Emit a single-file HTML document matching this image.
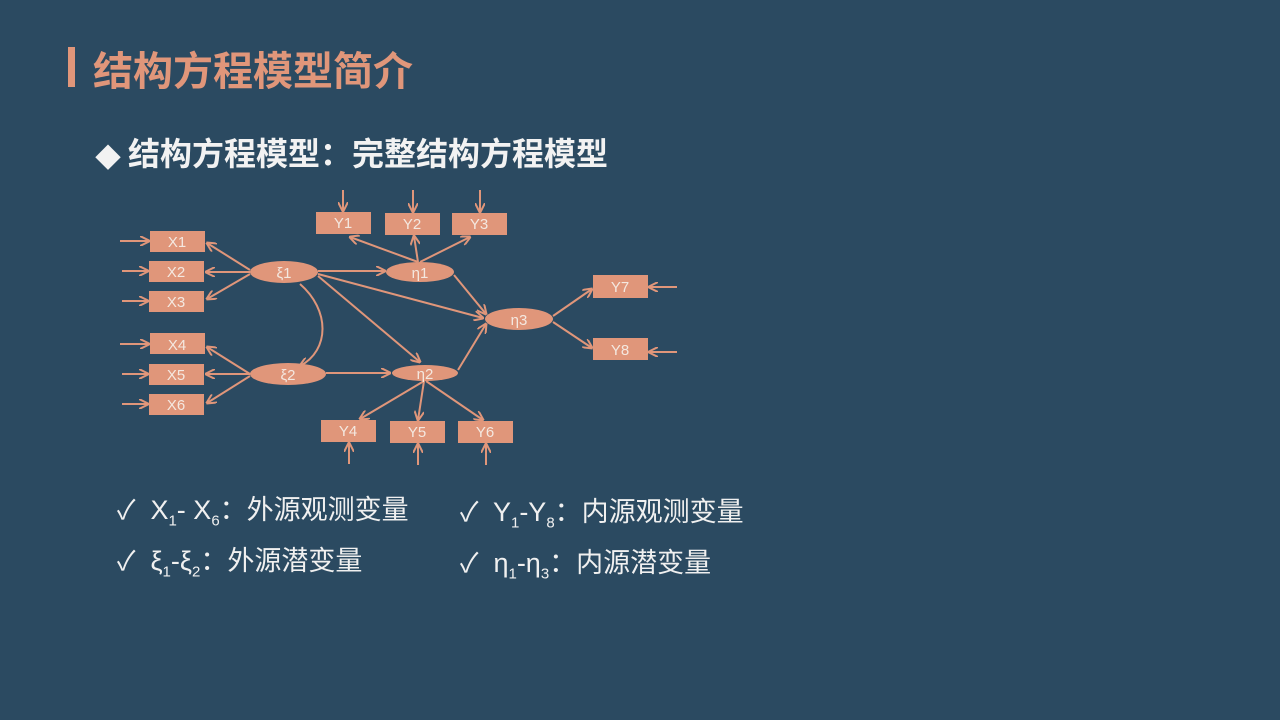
<!DOCTYPE html>
<html><head><meta charset="utf-8"><style>
body{margin:0;width:1280px;height:720px;background:#2b4a61;overflow:hidden;position:relative;font-family:"Liberation Sans","Noto Sans CJK SC",sans-serif}
.bar{position:absolute;left:68px;top:47px;width:7px;height:40px;background:#e0967a}
.t1{position:absolute;left:93px;top:47px;font-size:40px;font-weight:bold;color:#e0967a;line-height:50px}
.dia{position:absolute;left:95px;top:138px;font-size:26px;color:#f2f2f2}
.t2{position:absolute;left:128px;top:133px;font-size:32px;font-weight:bold;color:#f2f2f2;line-height:42px}
.li{position:absolute;font-size:27px;color:#f0f0f0;white-space:nowrap;line-height:34px}
.li sub{font-size:15px}
svg{position:absolute;left:0;top:0}
</style></head><body>
<div class="bar"></div>
<div class="t1">结构方程模型简介</div>
<div class="dia">◆</div>
<div class="t2">结构方程模型：完整结构方程模型</div>
<svg width="1280" height="720" viewBox="0 0 1280 720">
<defs><marker id="a" viewBox="0 0 10 10" refX="9" refY="5" markerWidth="5" markerHeight="5" orient="auto"><path d="M0,0 L10,5 L0,10" fill="none" stroke="#e0967a" stroke-width="2"/></marker></defs>
<g stroke="#e0967a" stroke-width="2" fill="none" marker-end="url(#a)">
<line x1="120" y1="241" x2="149" y2="241"/><line x1="122" y1="271" x2="148" y2="271"/><line x1="122" y1="301" x2="148" y2="301"/>
<line x1="120" y1="344" x2="149" y2="344"/><line x1="122" y1="374" x2="148" y2="374"/><line x1="122" y1="404" x2="148" y2="404"/>
<line x1="250" y1="270" x2="207" y2="243"/><line x1="250" y1="272" x2="206" y2="272"/><line x1="250" y1="274" x2="207" y2="299"/>
<line x1="250" y1="374" x2="207" y2="347"/><line x1="250" y1="374" x2="206" y2="374"/><line x1="250" y1="376" x2="207" y2="403"/>
<line x1="318" y1="271" x2="385" y2="271"/>
<line x1="318" y1="274" x2="483" y2="318"/>
<line x1="318" y1="276" x2="420" y2="362"/>
<line x1="326" y1="373" x2="390" y2="373"/>
<line x1="454" y1="275" x2="486" y2="314"/>
<line x1="458" y1="370" x2="486" y2="324"/>
<path d="M300,284 C330,310 330,350 300,366"/>
<line x1="418" y1="262" x2="350" y2="237"/><line x1="418" y1="262" x2="414" y2="236"/><line x1="420" y1="262" x2="470" y2="237"/>
<line x1="424" y1="381" x2="360" y2="419"/><line x1="424" y1="381" x2="418" y2="420"/><line x1="426" y1="381" x2="483" y2="420"/>
<line x1="553" y1="316" x2="592" y2="289"/><line x1="553" y1="322" x2="592" y2="348"/>
<line x1="677" y1="287" x2="649" y2="287"/><line x1="677" y1="352" x2="649" y2="352"/>
<line x1="343" y1="190" x2="343" y2="211"/><line x1="413" y1="190" x2="413" y2="212"/><line x1="480" y1="190" x2="480" y2="212"/>
<line x1="349" y1="464" x2="349" y2="443"/><line x1="418" y1="465" x2="418" y2="444"/><line x1="486" y1="465" x2="486" y2="444"/>
</g>
<g fill="#e0967a">
<rect x="150" y="231" width="55" height="21"/><rect x="149" y="261" width="55" height="21"/><rect x="149" y="291" width="55" height="21"/>
<rect x="150" y="333" width="55" height="21"/><rect x="149" y="364" width="55" height="21"/><rect x="149" y="394" width="55" height="21"/>
<rect x="316" y="212" width="55" height="22"/><rect x="385" y="213" width="55" height="22"/><rect x="452" y="213" width="55" height="22"/>
<rect x="321" y="420" width="55" height="22"/><rect x="390" y="421" width="55" height="22"/><rect x="458" y="421" width="55" height="22"/>
<rect x="593" y="275" width="55" height="23"/><rect x="593" y="338" width="55" height="22"/>
<ellipse cx="284" cy="272" rx="34" ry="11"/><ellipse cx="288" cy="374" rx="38" ry="11"/>
<ellipse cx="420" cy="272" rx="34" ry="10"/><ellipse cx="425" cy="373" rx="33" ry="8"/><ellipse cx="519" cy="319" rx="34" ry="11"/>
</g>
<g fill="#f4e8e0" font-size="15" text-anchor="middle" font-family="Liberation Sans, DejaVu Sans, sans-serif">
<text x="177" y="247">X1</text><text x="176" y="277">X2</text><text x="176" y="307">X3</text>
<text x="177" y="350">X4</text><text x="176" y="380">X5</text><text x="176" y="410">X6</text>
<text x="343" y="228">Y1</text><text x="412" y="229">Y2</text><text x="479" y="229">Y3</text>
<text x="348" y="436">Y4</text><text x="417" y="437">Y5</text><text x="485" y="437">Y6</text>
<text x="620" y="292">Y7</text><text x="620" y="355">Y8</text>
<text x="284" y="278">ξ1</text><text x="288" y="380">ξ2</text><text x="420" y="278">η1</text><text x="425" y="379">η2</text><text x="519" y="325">η3</text>
</g>
</svg>
<div class="li" style="left:117px;top:493px">✓&nbsp; X<sub>1</sub>- X<sub>6</sub>：外源观测变量</div>
<div class="li" style="left:460px;top:495px">✓&nbsp; Y<sub>1</sub>-Y<sub>8</sub>：内源观测变量</div>
<div class="li" style="left:117px;top:544px">✓&nbsp; ξ<sub>1</sub>-ξ<sub>2</sub>：外源潜变量</div>
<div class="li" style="left:460px;top:546px">✓&nbsp; η<sub>1</sub>-η<sub>3</sub>：内源潜变量</div>
</body></html>
